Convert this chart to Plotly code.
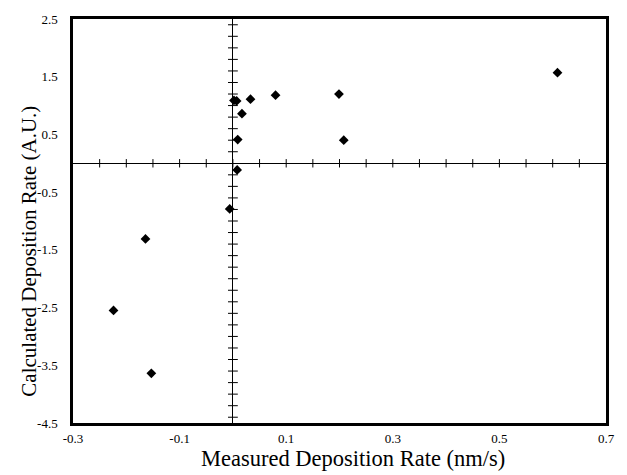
import numpy as np
import plotly.graph_objects as go

# Data
measured = [0.002, 0.007, 0.033, 0.017, 0.080, 0.009, 0.008, -0.006, -0.164, 0.199, 0.208, 0.609, -0.224, -0.153]
calculated = [1.09, 1.08, 1.11, 0.86, 1.18, 0.41, -0.115, -0.79, -1.31, 1.20, 0.40, 1.57, -2.55, -3.64]

x_ticks = [-0.3, -0.1, 0.1, 0.3, 0.5, 0.7]
x_labels = ["-0.3", "-0.1", "0.1", "0.3", "0.5", "0.7"]
y_ticks = [2.5, 1.5, 0.5, -0.5, -1.5, -2.5, -3.5, -4.5]
y_labels = ["2.5", "1.5", "0.5", "-0.5", "-1.5", "-2.5", "-3.5", "-4.5"]

xr = [-0.3, 0.7]
yr = [-4.5, 2.5]

# tick marks along the zero lines (axes crossing at origin)
xz = np.round(np.arange(-0.25, 0.70, 0.05), 3)
yz = np.round(np.concatenate([np.arange(-4.4, 0, 0.2), np.arange(0.2, 2.5, 0.2)]), 3)

font = "Liberation Serif"
fig = go.Figure()
fig.add_trace(go.Scatter(x=xz, y=[0] * len(xz), mode="markers",
                         marker=dict(symbol="line-ns", size=6, line=dict(color="black", width=1)),
                         hoverinfo="skip", showlegend=False))
fig.add_trace(go.Scatter(x=[0] * len(yz), y=yz, mode="markers",
                         marker=dict(symbol="line-ew", size=7, line=dict(color="black", width=1)),
                         hoverinfo="skip", showlegend=False))
fig.add_trace(go.Scatter(x=measured, y=calculated, mode="markers",
                         marker=dict(symbol="diamond", size=7.5, color="black"),
                         showlegend=False))

fig.update_layout(
    width=627, height=475,
    margin=dict(l=73, r=16, t=16, b=52),
    paper_bgcolor="white", plot_bgcolor="white",
    font=dict(family=font, color="black"),
    xaxis=dict(range=xr, tickvals=x_ticks, ticktext=x_labels, showgrid=False,
               zeroline=True, zerolinecolor="black", zerolinewidth=1,
               showline=True, mirror=True, linecolor="black", linewidth=2.5,
               ticks="", ticklabelstandoff=2, tickfont=dict(size=13, family=font)),
    yaxis=dict(range=yr, tickvals=y_ticks, ticktext=y_labels, showgrid=False,
               zeroline=True, zerolinecolor="black", zerolinewidth=1,
               showline=True, mirror=True, linecolor="black", linewidth=2.5,
               ticks="", ticklabelstandoff=10, tickfont=dict(size=13, family=font)),
    annotations=[
        dict(text="Measured Deposition Rate (nm/s)", xref="paper", yref="paper",
             x=(356 - 73) / 538, y=-(459 - 423) / 407, showarrow=False,
             xanchor="center", yanchor="middle", font=dict(size=22.5, family=font)),
        dict(text="Calculated Deposition Rate (A.U.)", xref="paper", yref="paper",
             x=-(73 - 29) / 538, y=1 - (250 - 16) / 407, showarrow=False, textangle=-90,
             xanchor="center", yanchor="middle", font=dict(size=21, family=font)),
    ],
)

fig.write_html("out.html")
